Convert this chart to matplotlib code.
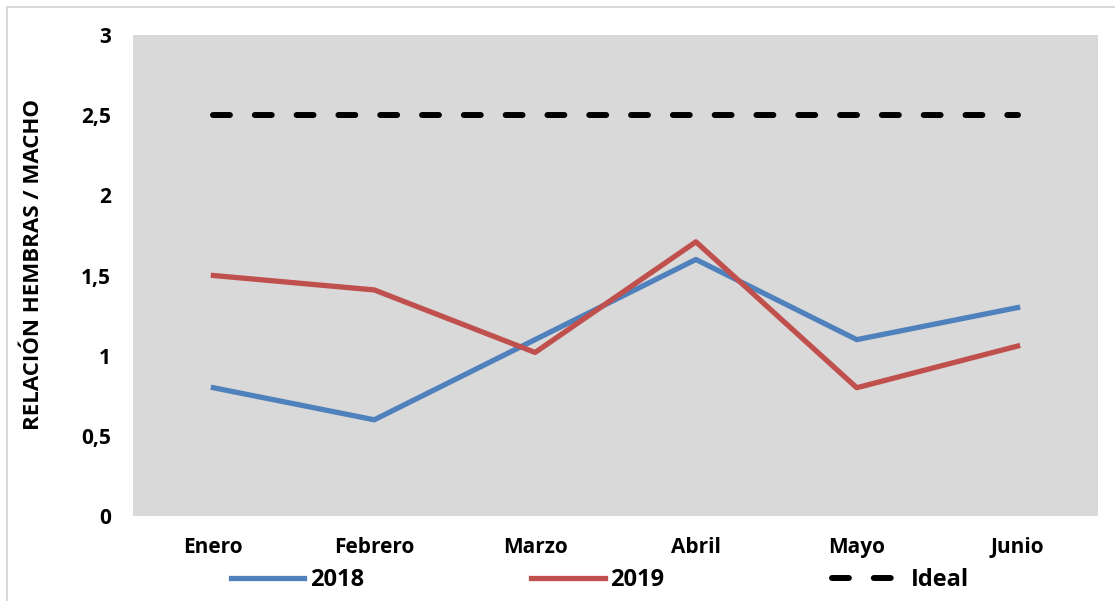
import matplotlib.pyplot as plt
from matplotlib.lines import Line2D
from matplotlib.ticker import FuncFormatter

meses = ['Enero', 'Febrero', 'Marzo', 'Abril', 'Mayo', 'Junio']
valores_2018 = [0.8, 0.6, 1.1, 1.6, 1.1, 1.3]
valores_2019 = [1.5, 1.41, 1.02, 1.71, 0.8, 1.06]
ideal = [2.5, 2.5, 2.5, 2.5, 2.5, 2.5]

plt.rcParams['font.family'] = ['Open Sans', 'DejaVu Sans']
plt.rcParams['font.weight'] = 'bold'

W, H = 1115, 601
fig = plt.figure(figsize=(W / 100, H / 100), dpi=100)
ax = fig.add_axes([133 / W, 1 - 516 / H, (1098 - 133) / W, (516 - 35) / H])
ax.set_facecolor('#D9D9D9')

x = range(len(meses))
ax.plot(x, valores_2018, color='#4F81BD', lw=3.8, label='2018', solid_joinstyle='round')
ax.plot(x, valores_2019, color='#C0504D', lw=3.8, label='2019', solid_joinstyle='round')
ax.plot(x, ideal, color='black', lw=4.3, dashes=(2.83, 4.17), dash_capstyle='round',
        label='Ideal')

ax.set_xlim(-0.5, 5.5)
ax.set_ylim(0, 3)
ax.set_xticks(list(x))
ax.set_xticklabels(meses, fontweight='bold')
ax.set_yticks([0, 0.5, 1, 1.5, 2, 2.5, 3])
ax.yaxis.set_major_formatter(FuncFormatter(lambda v, p: ('%g' % v).replace('.', ',')))
ax.tick_params(length=0, labelsize=15, pad=15)
ax.tick_params(axis='y', pad=16)
for lbl in ax.get_yticklabels():
    lbl.set_fontweight('bold')
for s in ax.spines.values():
    s.set_visible(False)

ax.set_ylabel('RELACIÓN HEMBRAS / MACHO', fontsize=16, fontweight='bold')
ax.yaxis.set_label_coords(-0.092, 0.522)

fig.legend(loc='center', bbox_to_anchor=(600 / W, 1 - 580 / H), ncol=3, frameon=False,
           prop={'size': 17, 'weight': 'bold'}, handlelength=3.1, handletextpad=0.25,
           columnspacing=7.1)

# marco exterior
fig.add_artist(Line2D([7 / W, 7 / W], [0, 1 - 7 / H], color='#D9D9D9', lw=1.5))
fig.add_artist(Line2D([7 / W, 1], [1 - 7 / H, 1 - 7 / H], color='#D9D9D9', lw=1.5))

fig.savefig('out.png', dpi=100, facecolor='white')
